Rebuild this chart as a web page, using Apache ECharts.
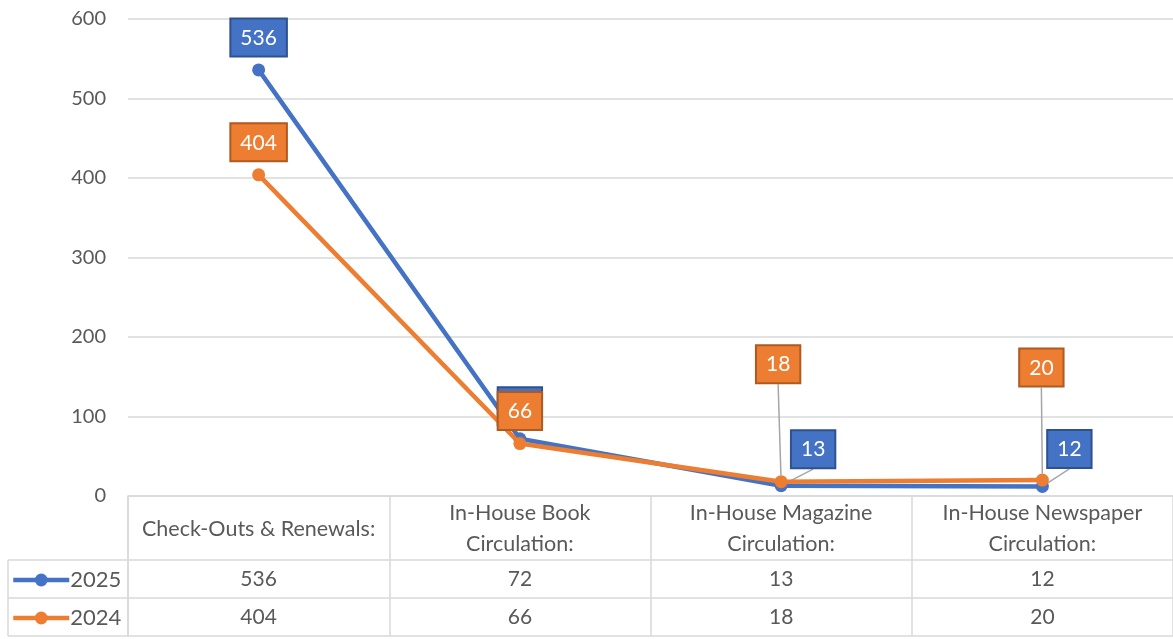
<!DOCTYPE html>
<html>
<head>
<meta charset="utf-8">
<title>Circulation 2025 vs 2024</title>
<script src="https://cdn.jsdelivr.net/npm/echarts@6/dist/echarts.min.js"></script>
<style>
  html, body { margin: 0; padding: 0; background: #ffffff; }
  #chart { width: 1173px; height: 639px; }
</style>
</head>
<body>
<div id="chart"></div>
<script>
// Circulation categories and yearly counts
const categories = [
  'Check-Outs & Renewals:',
  'In-House Book\nCirculation:',
  'In-House Magazine\nCirculation:',
  'In-House Newspaper\nCirculation:'
];
const seriesNames = ['2025', '2024'];
const values2025 = [536, 72, 13, 12];
const values2024 = [404, 66, 18, 20];
const yTicks = [0, 100, 200, 300, 400, 500, 600];

const BLUE = '#4472C4';
const ORANGE = '#ED7D31';
const GRID_COLOR = '#D9D9D9';
const TEXT_COLOR = '#595959';
const FONT = 'Lato, "Open Sans", sans-serif';

// Plot area and data-table geometry
const G = { left: 128, right: 0, top: 19, bottom: 143 };
const HEADER_H = 64;
const ROW_H = 38;
const chartH = 639;
const axisY = chartH - G.bottom;          // y of the value 0 line
const legendLeftX = 8;

// Offsets that pull some value labels away from crowded points
const labelShift = {
  0: { 2: [32, -4], 3: [27, -5] },
  1: { 2: [-3, -85], 3: [-1, -80] }
};

const chart = echarts.init(document.getElementById('chart'), null, { renderer: 'canvas' });

function makeSeries(name, values, color, border, idx) {
  const shifts = labelShift[idx] || {};
  const data = values.map((v, i) => ({
    value: v,
    labelLine: { show: !!shifts[i] }
  }));
  return {
    name: name,
    type: 'line',
    data: data,
    z: 2 + idx,
    symbol: 'circle',
    symbolSize: 13,
    lineStyle: { color: color, width: 4.5 },
    itemStyle: { color: color },
    label: {
      show: true,
      position: 'top',
      distance: 8,
      color: '#ffffff',
      fontFamily: FONT,
      fontSize: 21,
      backgroundColor: color,
      borderColor: border,
      borderWidth: 2,
      padding: [8, 9, 7, 9]
    },
    labelLine: {
      show: false,
      lineStyle: { color: '#A6A6A6', width: 1.5 }
    },
    labelLayout: function (p) {
      const s = shifts[p.dataIndex];
      if (!s) return {};
      return { dx: s[0], dy: s[1] };
    },
    emphasis: { disabled: true },
    animation: false
  };
}

function rowAxis(data, offset, tickLen, showLabel) {
  return {
    type: 'category',
    position: 'bottom',
    offset: offset,
    data: data,
    boundaryGap: true,
    axisLine: { show: true, lineStyle: { color: GRID_COLOR, width: 1.5 } },
    axisTick: {
      show: tickLen > 0,
      length: tickLen,
      inside: false,
      alignWithLabel: false,
      lineStyle: { color: GRID_COLOR, width: 1.5 }
    },
    axisLabel: {
      show: showLabel,
      interval: 0,
      color: TEXT_COLOR,
      fontFamily: FONT,
      fontSize: 21,
      margin: 9
    },
    splitLine: { show: false }
  };
}

const option = {
  backgroundColor: '#ffffff',
  animation: false,
  textStyle: { fontFamily: FONT },
  grid: { left: G.left, right: G.right, top: G.top, bottom: G.bottom, containLabel: false },
  legend: {
    orient: 'vertical',
    left: 6,
    top: axisY + HEADER_H + 4,
    itemWidth: 56,
    itemHeight: 16,
    itemGap: 16,
    selectedMode: false,
    data: seriesNames,
    lineStyle: { width: 4.5 },
    textStyle: { color: TEXT_COLOR, fontFamily: FONT, fontSize: 22, lineHeight: 22, padding: [0, 0, 0, -4] }
  },
  xAxis: [
    {
      type: 'category',
      position: 'bottom',
      data: categories,
      boundaryGap: true,
      axisLine: { show: true, lineStyle: { color: GRID_COLOR, width: 1.5 } },
      axisTick: {
        show: true,
        length: HEADER_H,
        alignWithLabel: false,
        lineStyle: { color: GRID_COLOR, width: 1.5 }
      },
      axisLabel: {
        interval: 0,
        color: TEXT_COLOR,
        fontFamily: FONT,
        fontSize: 21.5,
        lineHeight: 31,
        margin: 33,
        verticalAlign: 'middle'
      }
    },
    rowAxis(values2025.map(String), HEADER_H, ROW_H, true),
    rowAxis(values2024.map(String), HEADER_H + ROW_H, ROW_H, true),
    rowAxis(categories.map(() => ''), HEADER_H + ROW_H * 2, 0, false)
  ],
  yAxis: {
    type: 'value',
    min: yTicks[0],
    max: yTicks[yTicks.length - 1],
    interval: 100,
    axisLine: { show: false },
    axisTick: { show: false },
    axisLabel: {
      color: TEXT_COLOR,
      fontFamily: FONT,
      fontSize: 20,
      margin: 22
    },
    splitLine: { lineStyle: { color: GRID_COLOR, width: 1.5 } }
  },
  series: [
    makeSeries(seriesNames[0], values2025, BLUE, '#2F528F', 0),
    makeSeries(seriesNames[1], values2024, ORANGE, '#AE5A21', 1)
  ]
};

chart.setOption(option);

// Borders of the legend column to the left of the data table
const rowTop = axisY + HEADER_H;
const lineStyle = { stroke: GRID_COLOR, lineWidth: 1.5 };
const borders = [];
for (let i = 0; i <= 2; i++) {
  const y = rowTop + i * ROW_H;
  borders.push({ type: 'line', silent: true, shape: { x1: legendLeftX, y1: y, x2: G.left, y2: y }, style: lineStyle });
}
borders.push({ type: 'line', silent: true, shape: { x1: legendLeftX, y1: rowTop, x2: legendLeftX, y2: rowTop + 2 * ROW_H }, style: lineStyle });
borders.push({ type: 'line', silent: true, shape: { x1: G.left, y1: axisY, x2: G.left, y2: rowTop + 2 * ROW_H }, style: lineStyle });
chart.setOption({ graphic: borders });
</script>
</body>
</html>
